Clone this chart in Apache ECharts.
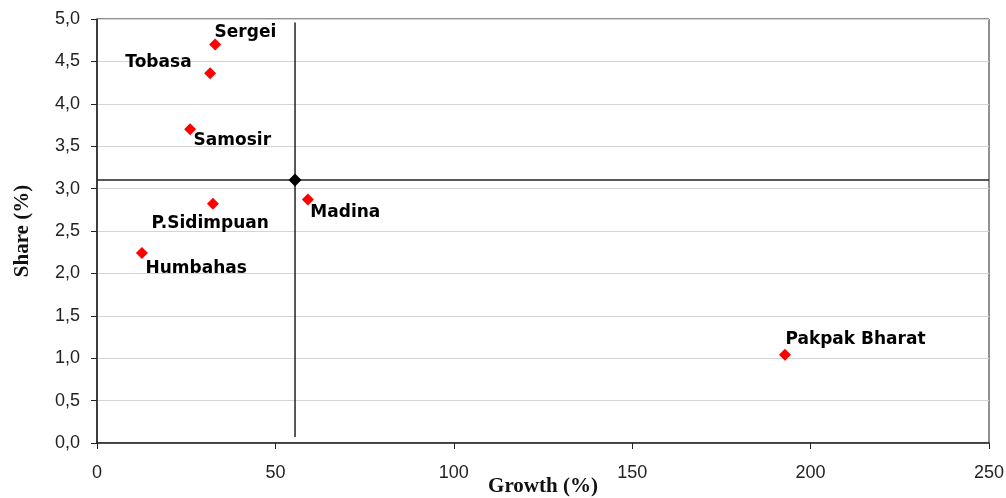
<!DOCTYPE html>
<html><head><meta charset="utf-8">
<script src="https://cdn.jsdelivr.net/npm/echarts@6/dist/echarts.min.js"></script>
<style>html,body{margin:0;padding:0;background:#fff}#c{width:1006px;height:498px}</style>
</head><body><div id="c"></div>
<script>
const names = ['Sergei','Tobasa','Samosir','P.Sidimpuan','Humbahas','Madina','Pakpak Bharat'];
const growth = [33.1, 31.7, 26.1, 32.5, 12.6, 59.1, 192.8];
const share = [4.70, 4.36, 3.70, 2.82, 2.24, 2.87, 1.04];
const meanGrowth = [55.5];
const meanShare = [3.10];
const vLineY = [0.07, 4.96];
const xTicks = [0, 50, 100, 150, 200, 250];
const yTicks = [0, 0.5, 1, 1.5, 2, 2.5, 3, 3.5, 4, 4.5, 5];

const labelPos = {
  'Sergei': {p:[5.5,-5.5], a:'left'},
  'Tobasa': {p:[-12.5,-4.5], a:'right'},
  'Samosir': {p:[9.5,17.5], a:'left'},
  'P.Sidimpuan': {p:[-55.5,25.5], a:'left'},
  'Humbahas': {p:[9.5,21.5], a:'left'},
  'Madina': {p:[8.5,18.5], a:'left'},
  'Pakpak Bharat': {p:[6.5,-9.5], a:'left'}
};

const pts = names.map((n,i)=>({
  name:n, value:[growth[i], share[i]],
  label:{show:true, formatter:n, position:labelPos[n].p, align:labelPos[n].a, verticalAlign:'middle',
    fontFamily:'DejaVu Sans', fontWeight:'bold', fontSize:17, color:'#000'}
}));

const chart = echarts.init(document.getElementById('c'));
chart.setOption({
  animation:false,
  grid:{left:97, right:17, top:19, bottom:55, show:true, borderColor:'#222', borderWidth:1,
    containLabel:false, outerBoundsMode:'none'},
  xAxis:{type:'value', min:xTicks[0], max:xTicks[xTicks.length-1], interval:50,
    name:'Growth (%)', nameLocation:'middle', nameGap:33, nameMoveOverlap:false,
    nameTextStyle:{fontFamily:'Liberation Serif, Times New Roman', fontWeight:'bold', fontSize:21, color:'#111'},
    axisLine:{lineStyle:{color:'#222', width:1.5}}, axisTick:{show:true, length:6, lineStyle:{color:'#222'}},
    axisLabel:{fontFamily:'Arial, Liberation Sans', fontSize:18, color:'#222', margin:21},
    splitLine:{show:false}},
  yAxis:{type:'value', min:yTicks[0], max:yTicks[yTicks.length-1], interval:0.5,
    name:'Share (%)', nameLocation:'middle', nameGap:64, nameRotate:90, nameMoveOverlap:false,
    nameTextStyle:{fontFamily:'Liberation Serif, Times New Roman', fontWeight:'bold', fontSize:21, color:'#111'},
    axisLine:{show:true, lineStyle:{color:'#222', width:1.5}}, axisTick:{show:true, length:6, lineStyle:{color:'#222'}},
    axisLabel:{fontFamily:'Arial, Liberation Sans', fontSize:18, color:'#222', margin:17,
      formatter:v=>v.toFixed(1).replace('.',',')},
    splitLine:{show:true, lineStyle:{color:'#d4d4d4', width:1}}},
  series:[
    {type:'line', data:[[xTicks[0], meanShare[0]],[xTicks[xTicks.length-1], meanShare[0]]], symbol:'none',
      lineStyle:{color:'#222', width:1.5}, silent:true, z:3},
    {type:'line', data:[[meanGrowth[0], vLineY[0]],[meanGrowth[0], vLineY[1]]], symbol:'none',
      lineStyle:{color:'#222', width:1.5}, silent:true, z:3},
    {type:'scatter', data:pts, symbol:'diamond', symbolSize:12, itemStyle:{color:'#ff0000', opacity:1}, z:5},
    {type:'scatter', data:[[meanGrowth[0], meanShare[0]]], symbol:'diamond', symbolSize:13, itemStyle:{color:'#000', opacity:1}, z:6}
  ]
});
</script></body></html>
